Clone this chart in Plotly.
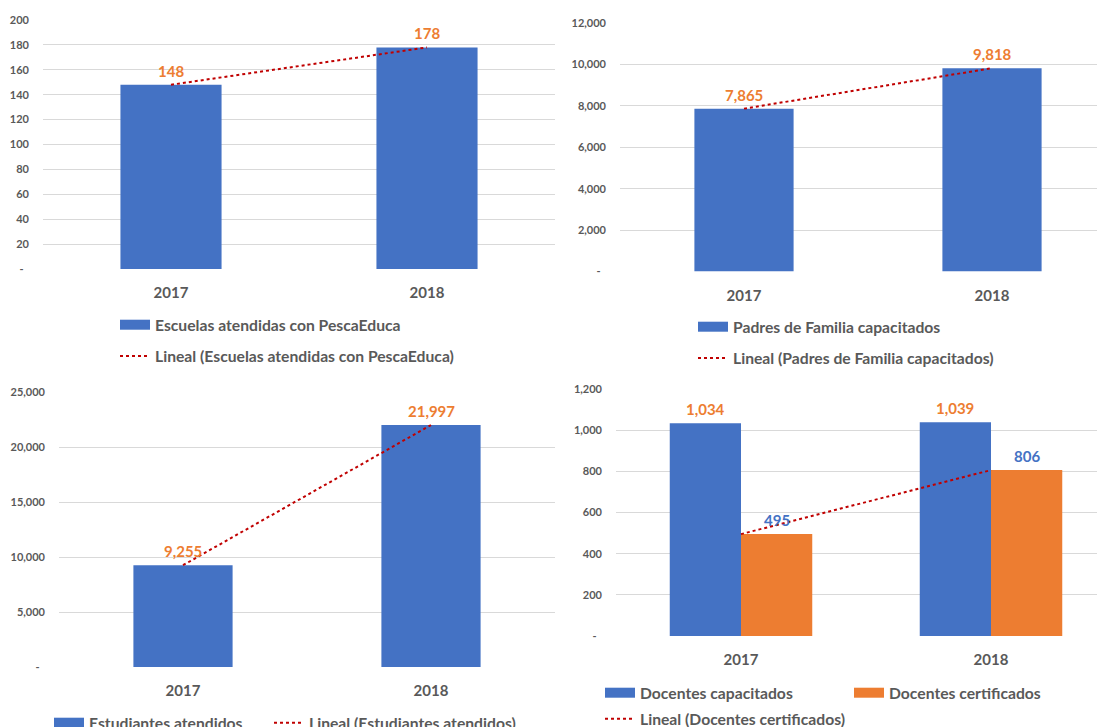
import numpy as np
import plotly.graph_objects as go

# ---------------- data ----------------
years = ["2017", "2018"]
escuelas = [148, 178]
padres = [7865, 9818]
estudiantes = [9255, 21997]
doc_capacitados = [1034, 1039]
doc_certificados = [495, 806]

name_esc = "Escuelas atendidas con PescaEduca"
name_pad = "Padres de Familia capacitados"
name_est = "Estudiantes atendidos"
name_cap = "Docentes capacitados"
name_cer = "Docentes certificados"

ticks1 = [0, 20, 40, 60, 80, 100, 120, 140, 160, 180, 200]
ticks2 = [0, 2000, 4000, 6000, 8000, 10000, 12000]
ticks3 = [0, 5000, 10000, 15000, 20000, 25000]
ticks4 = [0, 200, 400, 600, 800, 1000, 1200]

# ---------------- styles ----------------
BLUE = "#4472C4"
ORANGE = "#ED7D31"
RED = "#C00000"
GRAY = "#595959"
GRID = "#D9D9D9"
FONT = "Lato"
W, H = 1105, 727
OFF = 8  # page body margin
LABEL_SHIFT = 14

fig = go.Figure()
annotations = []


def trend(vals):
    idx = np.arange(len(vals))
    coef = np.polyfit(idx, np.asarray(vals, dtype=float), 1)
    return np.polyval(coef, idx)


def fmt_ticks(vals):
    return [("-\u00a0\u00a0" if v == 0 else f"{v:,}") for v in vals]


def add_labels(xa, ya, vals, color, dx=0.0):
    for i, v in enumerate(vals):
        annotations.append(dict(
            x=i + dx, y=v, xref=xa, yref=ya, text=f"{v:,}", showarrow=False,
            xanchor="center", yanchor="middle", yshift=LABEL_SHIFT,
            font=dict(family=FONT, size=15, color=color, weight=700)))


def add_single(xa, ya, vals, name, legend, legend_trend, width=0.4):
    fig.add_trace(go.Bar(
        x=years, y=vals, name=name, marker=dict(color=BLUE, line=dict(width=0)),
        width=width, xaxis=xa, yaxis=ya, showlegend=False))
    add_labels(xa, ya, vals, ORANGE)
    # legend swatch for the bar series
    fig.add_trace(go.Scatter(
        x=[None], y=[None], mode="lines", name=name,
        line=dict(color=BLUE, width=10), xaxis=xa, yaxis=ya,
        legend=legend, legendgroup=legend + "a"))
    fig.add_trace(go.Scatter(
        x=years, y=trend(vals), mode="lines", name=f"Lineal ({name})",
        line=dict(color=RED, width=2, dash="dot"), xaxis=xa, yaxis=ya,
        legend=legend_trend, legendgroup=legend + "b"))


add_single("x", "y", escuelas, name_esc, "legend", "legend", width=0.395)
add_single("x2", "y2", padres, name_pad, "legend2", "legend2", width=0.40)
add_single("x3", "y3", estudiantes, name_est, "legend3", "legend6", width=0.40)

# chart 4 (grouped)
bw = 0.285
fig.add_trace(go.Bar(
    x=years, y=doc_capacitados, name=name_cap, marker=dict(color=BLUE, line=dict(width=0)),
    width=bw, offset=-bw, xaxis="x4", yaxis="y4", showlegend=False))
fig.add_trace(go.Bar(
    x=years, y=doc_certificados, name=name_cer, marker=dict(color=ORANGE, line=dict(width=0)),
    width=bw, offset=0, xaxis="x4", yaxis="y4", showlegend=False))
add_labels("x4", "y4", doc_capacitados, ORANGE, dx=-bw / 2)
add_labels("x4", "y4", doc_certificados, BLUE, dx=bw / 2)
fig.add_trace(go.Scatter(x=[None], y=[None], mode="lines", name=name_cap,
                         line=dict(color=BLUE, width=10), xaxis="x4", yaxis="y4",
                         legend="legend4"))
fig.add_trace(go.Scatter(x=[None], y=[None], mode="lines", name=name_cer,
                         line=dict(color=ORANGE, width=10), xaxis="x4", yaxis="y4",
                         legend="legend4"))
fig.add_trace(go.Scatter(
    x=years, y=trend(doc_certificados), mode="lines", name=f"Lineal ({name_cer})",
    line=dict(color=RED, width=2, dash="dot"), xaxis="x4", yaxis="y4",
    legend="legend5"))


def px_x(p):
    return (p - OFF) / W


def px_y(p):
    return 1 - (p - OFF) / H


def xaxis(left, right, rng, anchor):
    return dict(domain=[px_x(left), px_x(right)], range=rng, type="category",
                anchor=anchor, showgrid=False, showline=False, zeroline=False,
                ticks="", ticklabelstandoff=13,
                tickfont=dict(family=FONT, size=15, color=GRAY, weight=700),
                fixedrange=True)


def yaxis(top, bottom, vals, anchor):
    return dict(domain=[px_y(bottom), px_y(top)], range=[0, vals[-1]],
                tickmode="array", tickvals=vals, ticktext=fmt_ticks(vals),
                anchor=anchor, showgrid=True, gridcolor=GRID, gridwidth=1.3,
                zeroline=False, showline=False, ticks="", ticklabelstandoff=13,
                tickfont=dict(family=FONT, size=11, color=GRAY, weight=700),
                fixedrange=True)


legfont = dict(family=FONT, size=15.7, color=GRAY, weight=700)


def leg(xf, yf, **kw):
    d = dict(x=xf / W, y=1 - yf / H, xanchor="left", yanchor="top",
             font=legfont, bgcolor="rgba(0,0,0,0)")
    d.update(kw)
    return d


fig.update_layout(
    width=W, height=H,
    margin=dict(l=0, r=0, t=0, b=0, autoexpand=False),
    paper_bgcolor="white", plot_bgcolor="white",
    font=dict(family=FONT, color=GRAY),
    barmode="overlay",
    annotations=annotations,
    xaxis=xaxis(43, 555, [-0.5, 1.5], "y"),
    yaxis=yaxis(20, 269, ticks1, "x"),
    xaxis2=xaxis(620, 1105, [-0.5, -0.5 + 485 / 248], "y2"),
    yaxis2=yaxis(23, 271.5, ticks2, "x2"),
    xaxis3=xaxis(59, 555, [-0.5, 1.5], "y3"),
    yaxis3=yaxis(392, 667, ticks3, "x3"),
    xaxis4=xaxis(616, 1105, [-0.5, -0.5 + 489 / 250], "y4"),
    yaxis4=yaxis(389, 636, ticks4, "x4"),
    legend=leg(107, 300, orientation="v", traceorder="grouped", tracegroupgap=8),
    legend2=leg(685, 302, orientation="v", traceorder="grouped", tracegroupgap=8),
    legend3=leg(41, 698, orientation="h"),
    legend6=leg(261, 698, orientation="h"),
    legend4=leg(592, 668, orientation="h", entrywidth=204, entrywidthmode="pixels"),
    legend5=leg(592, 694, orientation="h"),
)

fig.write_html("out.html")
